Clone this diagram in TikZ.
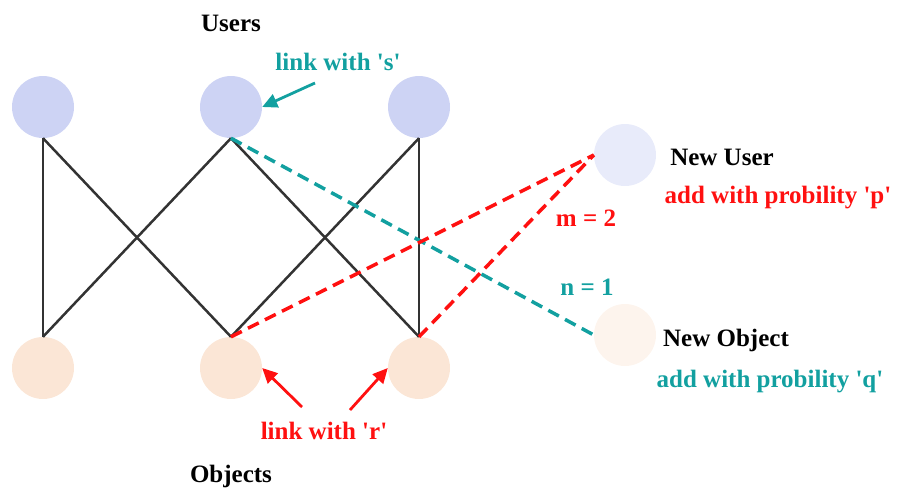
\documentclass[tikz,border=0pt]{standalone}
\usepackage{fontspec}
\setmainfont{Liberation Serif}
\usetikzlibrary{arrows.meta}
\definecolor{ublue}{HTML}{CDD3F4}
\definecolor{opeach}{HTML}{FBE6D6}
\definecolor{lteal}{HTML}{12A0A0}
\definecolor{lred}{HTML}{FF1010}
\definecolor{edgegrey}{HTML}{333333}
\newcommand{\sq}{\textquotesingle}

\begin{document}
\begin{tikzpicture}[x=1pt, y=-1pt, font=\bfseries\fontsize{25}{30}\selectfont,
      usr/.style={circle, fill=ublue, minimum size=62pt, inner sep=0pt},
      obj/.style={circle, fill=opeach, minimum size=62pt, inner sep=0pt},
      edge/.style={draw=edgegrey, line width=2.5pt},
      tlink/.style={draw=lteal, line width=3.5pt, dash pattern=on 12pt off 7pt},
      rlink/.style={draw=lred, line width=3.5pt, dash pattern=on 12pt off 7pt},
      arr/.style={line width=2.8pt, -{Triangle[length=15pt,width=14pt]}}]
      \useasboundingbox (0,0) rectangle (903,488);
      % users and objects
      \foreach \n/\x in {1/43,2/231,3/419} {
        \node[usr] (u\n) at (\x,107) {};
        \node[obj] (o\n) at (\x,368) {};
      }
      \node[usr, fill=ublue!45] (nu) at (625,155) {};
      \node[obj, fill=opeach!45] (no) at (625,335) {};

      % bipartite links
      \draw[edge] (u1.south)--(o1.north);
      \draw[edge] (u1.south)--(o2.north);
      \draw[edge] (u2.south)--(o1.north);
      \draw[edge] (u2.south)--(o3.north);
      \draw[edge] (u3.south)--(o2.north);
      \draw[edge] (u3.south)--(o3.north);
      \draw[tlink] (u2.south)--(no.west);
      \draw[rlink] (o2.north)--(nu.west);
      \draw[rlink] (o3.north)--(nu.west);

      % labels
      \node[anchor=base] (users) at (231,31) {Users};
      \node[anchor=base] (objs) at (231,482) {Objects};
      \node[anchor=base, text=lteal] (slbl) at (338,70) {link with \sq s\sq};
      \node[anchor=base, text=lred] (rlbl) at (324,439) {link with \sq r\sq};
      \node[anchor=base] (nulbl) at (722,165) {New User};
      \node[anchor=base, text=lred] (plbl) at (778,203) {add with probility \sq p\sq};
      \node[anchor=base, text=lred] (mlbl) at (586,226) {m = 2};
      \node[anchor=base, text=lteal] (nlbl) at (587,295) {n = 1};
      \node[anchor=base] (nolbl) at (726,346) {New Object};
      \node[anchor=base, text=lteal] (qlbl) at (770,387) {add with probility \sq q\sq};

      \coordinate (sa) at (315,83);
      \coordinate (ra) at (302,407);
      \coordinate (rb) at (350,410);
      \draw[arr, lteal] (sa)--(u2.east);
      \draw[arr, lred] (ra)--(o2.east);
      \draw[arr, lred] (rb)--(o3.west);
    \end{tikzpicture}
\end{document}
